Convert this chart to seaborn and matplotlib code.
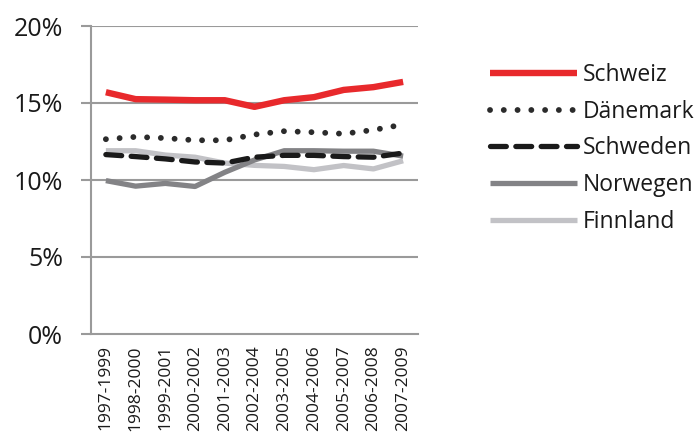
import matplotlib
matplotlib.use("Agg")
import matplotlib.pyplot as plt
from matplotlib.ticker import FixedLocator, PercentFormatter
import seaborn as sns
import pandas as pd

periods = ["1997-1999", "1998-2000", "1999-2001", "2000-2002", "2001-2003",
           "2002-2004", "2003-2005", "2004-2006", "2005-2007", "2006-2008",
           "2007-2009"]
schweiz = [15.7, 15.25, 15.22, 15.18, 15.18, 14.75, 15.18, 15.38, 15.85, 16.03, 16.37]
daenemark = [12.65, 12.8, 12.72, 12.58, 12.58, 12.95, 13.17, 13.1, 13.0, 13.25, 13.6]
schweden = [11.65, 11.52, 11.37, 11.17, 11.1, 11.48, 11.6, 11.6, 11.52, 11.48, 11.75]
norwegen = [9.96, 9.6, 9.78, 9.58, 10.5, 11.3, 11.9, 11.9, 11.87, 11.87, 11.55]
finnland = [11.9, 11.9, 11.62, 11.48, 11.1, 10.95, 10.88, 10.67, 10.94, 10.72, 11.25]

series = {
    "Schweiz": schweiz,
    "Dänemark": daenemark,
    "Schweden": schweden,
    "Norwegen": norwegen,
    "Finnland": finnland,
}
styles = {
    "Schweiz": dict(color="#e8292c", lw=4.6, ls="-"),
    "Dänemark": dict(color="#2b2b2b", lw=4.2, ls=(0, (0.01, 2.35))),
    "Schweden": dict(color="#1a1a1a", lw=3.8, ls=(0, (3.0, 1.8))),
    "Norwegen": dict(color="#838386", lw=3.8, ls="-"),
    "Finnland": dict(color="#c2c2c6", lw=3.8, ls="-"),
}

df = pd.DataFrame(
    [(i, name, v) for name, vals in series.items() for i, v in enumerate(vals)],
    columns=["pos", "land", "wert"],
)

sns.set_style("white")
plt.rcParams["font.family"] = ["Open Sans", "DejaVu Sans"]

fig = plt.figure(figsize=(6.99, 4.34), dpi=100)
ax = fig.add_axes([91 / 699, 1 - 334 / 434, (418 - 91) / 699, (334 - 26) / 434])

grid_c = "#9a9a9a"
for y in [5, 10, 15, 20]:
    ax.axhline(y, color=grid_c, lw=1.5, zorder=0)

order = ["Finnland", "Norwegen", "Schweden", "Dänemark", "Schweiz"]
for name in order:
    st = styles[name]
    sns.lineplot(data=df[df["land"] == name], x="pos", y="wert", ax=ax,
                 color=st["color"], linewidth=st["lw"], label=name,
                 legend=False, zorder=3)
    line = ax.lines[-1]
    line.set_linestyle(st["ls"])
    line.set_dash_capstyle("round")
    line.set_solid_capstyle("butt")
    line.set_solid_joinstyle("round")

ax.set_xlim(-0.5, len(periods) - 0.5)
ax.set_ylim(0, 20)
ax.set_xticks(range(len(periods)))
ax.set_xticklabels(periods, rotation=90, fontsize=12.5, color="#1a1a1a")
ax.xaxis.set_minor_locator(FixedLocator([i - 0.5 for i in range(len(periods) + 1)]))
ax.tick_params(axis="x", which="major", length=0, pad=8)
ax.tick_params(axis="x", which="minor", length=5, width=1.5, color=grid_c, direction="out")
ax.set_yticks([0, 5, 10, 15, 20])
ax.yaxis.set_major_formatter(PercentFormatter(decimals=0))
ax.tick_params(axis="y", length=7, width=1.5, color=grid_c, labelsize=18,
               labelcolor="#1a1a1a", pad=13, left=True)
ax.set_xlabel("")
ax.set_ylabel("")
for side in ["top", "right"]:
    ax.spines[side].set_visible(False)
for side in ["left", "bottom"]:
    ax.spines[side].set_color(grid_c)
    ax.spines[side].set_linewidth(1.5)
ax.set_facecolor("white")

handles = {l.get_label(): l for l in ax.lines if l.get_label() in series}
names = list(series.keys())
leg = fig.legend([handles[n] for n in names], names, loc="upper left",
                 bbox_to_anchor=(481 / 699, 1 - 54 / 434), frameon=False,
                 fontsize=16.5, handlelength=3.8, handletextpad=0.26,
                 labelspacing=0.55, borderaxespad=0)
for t in leg.get_texts():
    t.set_color("#1a1a1a")

fig.savefig("out.png", dpi=100, facecolor="white")
